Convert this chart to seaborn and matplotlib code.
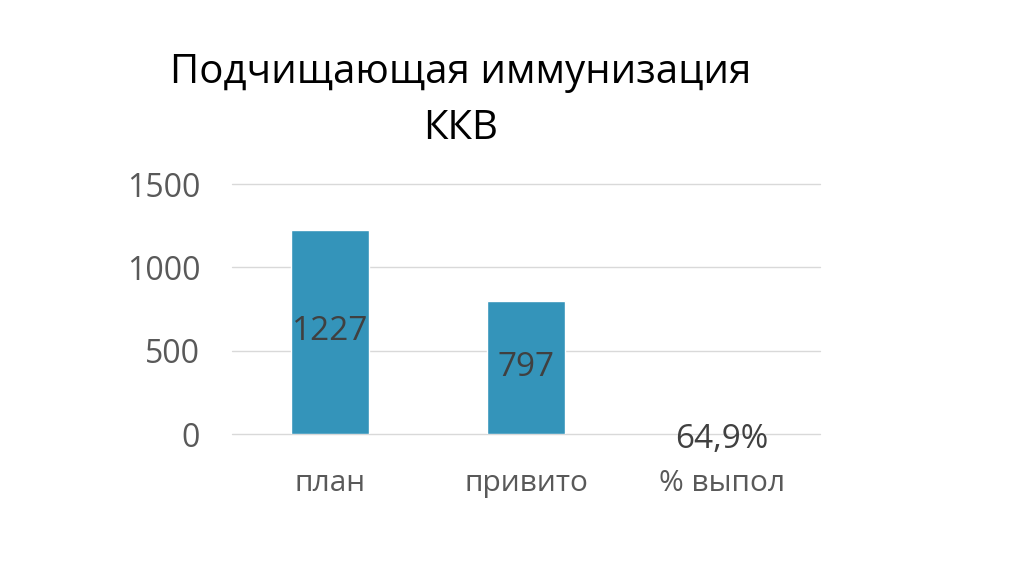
import matplotlib
matplotlib.use("Agg")
import matplotlib.pyplot as plt
import seaborn as sns
import pandas as pd

categories = ["план", "привито", "% выпол"]
values = [1227, 797, 0.649]
labels = ["1227", "797", "64,9%"]
yticks = [0, 500, 1000, 1500]

sns.set_theme(style="white")
plt.rcParams['font.family'] = ['Open Sans', 'DejaVu Sans']

fig = plt.figure(figsize=(10.24, 5.74), dpi=100)
ax = fig.add_axes([0.2266, 0.2439, 0.5742, 0.4355])

df = pd.DataFrame({"cat": categories, "val": values})
sns.barplot(data=df, x="cat", y="val", color="#3494BA", saturation=1, width=0.4, ax=ax)

for c in ax.containers:
    texts = ax.bar_label(c, labels=labels, label_type="center", fontsize=24, color="#404040")
    texts[2].set_y(texts[2].get_position()[1] - 4)

ax.set_ylim(0, 1500)
ax.set_yticks(yticks)
ax.set_yticklabels([str(t) for t in yticks])
ax.yaxis.grid(True, color="#D9D9D9", linewidth=1, clip_on=False)
for gl in ax.get_ygridlines():
    gl.set_clip_on(False)
ax.set_axisbelow(True)
for s in ax.spines.values():
    s.set_visible(False)
ax.set_xlabel("")
ax.set_ylabel("")
ax.tick_params(axis="y", labelsize=23, colors="#595959", length=0, pad=23)
ax.tick_params(axis="x", labelsize=21.5, colors="#595959", length=0, pad=25)

fig.text(0.45, 0.873, "Подчищающая иммунизация", ha="center", va="center", fontsize=29, color="#000000")
fig.text(0.45, 0.775, "ККВ", ha="center", va="center", fontsize=29, color="#000000")

fig.savefig("out.png", dpi=100, facecolor="white")
